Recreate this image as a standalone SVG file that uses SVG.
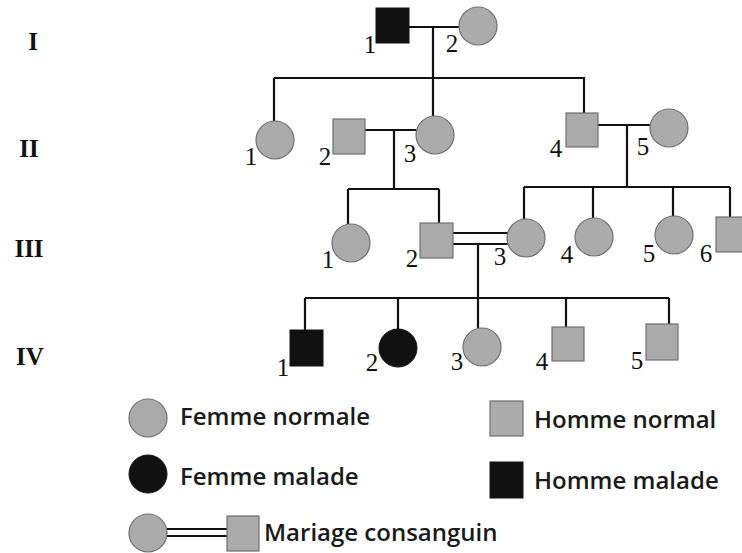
<svg xmlns="http://www.w3.org/2000/svg" width="742" height="553" viewBox="0 0 742 553">
<style>
.n{fill:#ababab;stroke:#707070;stroke-width:1.2}
.a{fill:#111;stroke:#111;stroke-width:1}
.ln{fill:none;stroke:#111;stroke-width:2.2}
.num{font-family:"Liberation Serif",serif;font-size:25px;fill:#111;text-anchor:middle}
.gen{font-family:"Liberation Serif",serif;font-size:25px;font-weight:bold;fill:#111;text-anchor:middle}
.leg{font-family:"Open Sans","Liberation Sans",sans-serif;font-size:24px;font-weight:600;fill:#1a1a1a}
</style>
<rect width="742" height="553" fill="#fff"/>
<g id="generations">
<text class="gen" x="33" y="50">I</text>
<text class="gen" x="29" y="157">II</text>
<text class="gen" x="29" y="257">III</text>
<text class="gen" x="30" y="365">IV</text>
</g>
<g id="connectors">
<path class="ln" d="M409 27H460M433 27V77M274 78H584M274 78V121M433 77V116M584 77V113"/>
<path class="ln" d="M365 130H416M394 130V189M348 189H439M348 189V224M439 189V223"/>
<path class="ln" d="M598 125H650M627 125V187M524 187H730M524 187V219M593 187V218M673 187V216M730 187V217"/>
<path class="ln" d="M453 233H508M453 244H508M478 244V298M305 298H669M305 298V330M398 298V329M478 298V328M566 298V327M669 298V324"/>
</g>
<g id="I-1"><rect class="a" x="376" y="8" width="33" height="35"/><text class="num" x="370" y="53">1</text></g>
<g id="I-2"><circle class="n" cx="478" cy="26" r="19"/><text class="num" x="452" y="52">2</text></g>
<g id="II-1"><circle class="n" cx="275" cy="140" r="19"/><text class="num" x="251" y="165">1</text></g>
<g id="II-2"><rect class="n" x="333" y="119" width="32" height="35"/><text class="num" x="325" y="165">2</text></g>
<g id="II-3"><circle class="n" cx="435" cy="135" r="19"/><text class="num" x="410" y="162">3</text></g>
<g id="II-4"><rect class="n" x="566" y="113" width="32" height="34"/><text class="num" x="556" y="157">4</text></g>
<g id="II-5"><circle class="n" cx="669" cy="128" r="19"/><text class="num" x="643" y="155">5</text></g>
<g id="III-1"><circle class="n" cx="351" cy="243" r="19"/><text class="num" x="328" y="268">1</text></g>
<g id="III-2"><rect class="n" x="420" y="223" width="33" height="35"/><text class="num" x="412" y="267">2</text></g>
<g id="III-3"><circle class="n" cx="526" cy="238" r="19"/><text class="num" x="500" y="265">3</text></g>
<g id="III-4"><circle class="n" cx="594" cy="237" r="19"/><text class="num" x="567" y="263">4</text></g>
<g id="III-5"><circle class="n" cx="674" cy="235" r="19"/><text class="num" x="649" y="262">5</text></g>
<g id="III-6"><rect class="n" x="716" y="217" width="33" height="35"/><text class="num" x="706" y="262">6</text></g>
<g id="IV-1"><rect class="a" x="290" y="330" width="33" height="36"/><text class="num" x="283" y="376">1</text></g>
<g id="IV-2"><circle class="a" cx="398" cy="348" r="19"/><text class="num" x="372" y="371">2</text></g>
<g id="IV-3"><circle class="n" cx="482" cy="347" r="19"/><text class="num" x="457" y="370">3</text></g>
<g id="IV-4"><rect class="n" x="552" y="327" width="32" height="34"/><text class="num" x="542" y="370">4</text></g>
<g id="IV-5"><rect class="n" x="646" y="324" width="32" height="36"/><text class="num" x="637" y="369">5</text></g>
<g id="legend">
<circle class="n" cx="148" cy="418" r="19"/><text class="leg" x="180" y="425">Femme normale</text>
<circle class="a" cx="148" cy="474" r="19"/><text class="leg" x="180" y="485">Femme malade</text>
<rect class="n" x="490" y="401" width="33" height="35"/><text class="leg" x="534" y="428">Homme normal</text>
<rect class="a" x="490" y="462" width="33" height="36"/><text class="leg" x="534" y="489">Homme malade</text>
<path class="ln" d="M165 529H228M165 536H228"/>
<circle class="n" cx="148" cy="533" r="19"/>
<rect class="n" x="227" y="516" width="32" height="35"/>
<text class="leg" x="264" y="541">Mariage consanguin</text>
</g>
</svg>
